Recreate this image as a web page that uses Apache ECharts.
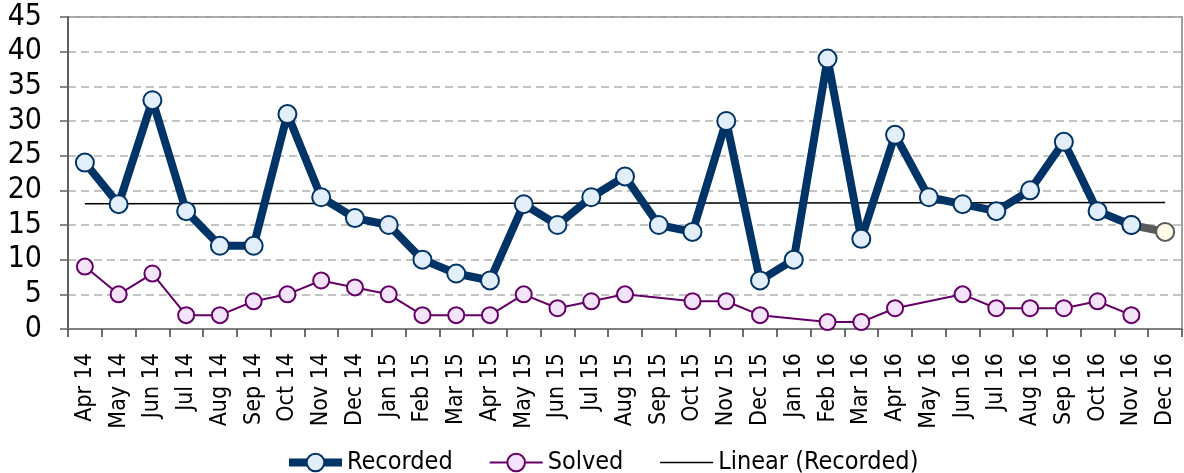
<!DOCTYPE html>
<html><head><meta charset="utf-8">
<script src="https://cdn.jsdelivr.net/npm/echarts@6/dist/echarts.min.js"></script>
<style>html,body{margin:0;padding:0;background:#fff}#c{width:1184px;height:473px}</style>
</head><body><div id="c"></div>
<script>
const categories = ['Apr 14','May 14','Jun 14','Jul 14','Aug 14','Sep 14','Oct 14','Nov 14','Dec 14','Jan 15','Feb 15','Mar 15','Apr 15','May 15','Jun 15','Jul 15','Aug 15','Sep 15','Oct 15','Nov 15','Dec 15','Jan 16','Feb 16','Mar 16','Apr 16','May 16','Jun 16','Jul 16','Aug 16','Sep 16','Oct 16','Nov 16','Dec 16'];
const recorded = [24,18,33,17,12,12,31,19,16,15,10,8,7,18,15,19,22,15,14,30,7,10,39,13,28,19,18,17,20,27,17,15,null];
const recordedLatest = [null,null,null,null,null,null,null,null,null,null,null,null,null,null,null,null,null,null,null,null,null,null,null,null,null,null,null,null,null,null,null,15,14];
const solved = [9,5,8,2,2,4,5,7,6,5,2,2,2,5,3,4,5,null,4,4,2,null,1,1,3,null,5,3,3,3,4,2,null];
const yTicks = [0,5,10,15,20,25,30,35,40,45];

// Linear trendline (least squares) over all recorded months
const allRec = recorded.map((v,i)=> v!=null ? v : recordedLatest[i]);
let n=0,sx=0,sy=0,sxx=0,sxy=0;
allRec.forEach((v,i)=>{ if(v!=null){n++;sx+=i;sy+=v;sxx+=i*i;sxy+=i*v;} });
const slope=(n*sxy-sx*sy)/(n*sxx-sx*sx), icpt=(sy-slope*sx)/n;
const trend = categories.map((c,i)=> (i===0||i===categories.length-1) ? +(icpt+slope*i).toFixed(3) : null);

const FONT = "'DejaVu Sans Condensed','DejaVu Sans',sans-serif";
const chart = echarts.init(document.getElementById('c'), null, {renderer:'canvas'});
chart.setOption({
  animation:false,
  backgroundColor:'#fff',
  grid:{left:68, right:2, top:17, bottom:144, show:true, borderColor:'#a0a0a0', borderWidth:2, containLabel:false},
  legend:{
    top:445, left:280, itemWidth:53, itemHeight:22, itemGap:36,
    textStyle:{fontFamily:FONT, fontSize:25, color:'#000'},
    data:[
      {name:'Recorded', lineStyle:{width:8}},
      {name:'Solved', lineStyle:{width:2}},
      {name:'Linear (Recorded)', lineStyle:{width:1.5}, itemStyle:{opacity:0}}
    ]
  },
  xAxis:{
    type:'category', data:categories, boundaryGap:true,
    axisLine:{lineStyle:{color:'#808080', width:2}},
    axisTick:{show:true, length:8, lineStyle:{color:'#404040', width:1.5}},
    axisLabel:{rotate:90, fontFamily:FONT, fontSize:23, color:'#000', margin:24, interval:0},
    splitLine:{show:false}
  },
  yAxis:{
    type:'value', min:0, max:45, interval:5,
    axisLine:{show:true, lineStyle:{color:'#606060', width:2}},
    axisTick:{show:true, length:8, lineStyle:{color:'#606060', width:1.5}},
    axisLabel:{fontFamily:FONT, fontSize:30, color:'#000', margin:26, formatter:v=>yTicks.includes(v)?String(v):''},
    splitLine:{show:true, lineStyle:{color:'#b0b0b0', type:[8,5], width:1.5}}
  },
  series:[
    {name:'Latest', type:'line', data:recordedLatest, z:2, connectNulls:false,
     symbol:'circle', symbolSize:18,
     lineStyle:{color:'#5a5a5a', width:8},
     itemStyle:{color:'#fffde8', borderColor:'#5a5a5a', borderWidth:2},
     legendHoverLink:false},
    {name:'Recorded', type:'line', data:recorded, z:4,
     symbol:'circle', symbolSize:18,
     lineStyle:{color:'#003366', width:8},
     itemStyle:{color:'#e3eefb', borderColor:'#003366', borderWidth:2}},
    {name:'Solved', type:'line', data:solved, z:3, connectNulls:true,
     symbol:'circle', symbolSize:16,
     lineStyle:{color:'#660066', width:2},
     itemStyle:{color:'#f3e3fb', borderColor:'#660066', borderWidth:2}},
    {name:'Linear (Recorded)', type:'line', data:trend, z:3, connectNulls:true,
     symbol:'none', lineStyle:{color:'#000', width:1.5}, itemStyle:{color:'#000'}}
  ]
});
</script></body></html>
